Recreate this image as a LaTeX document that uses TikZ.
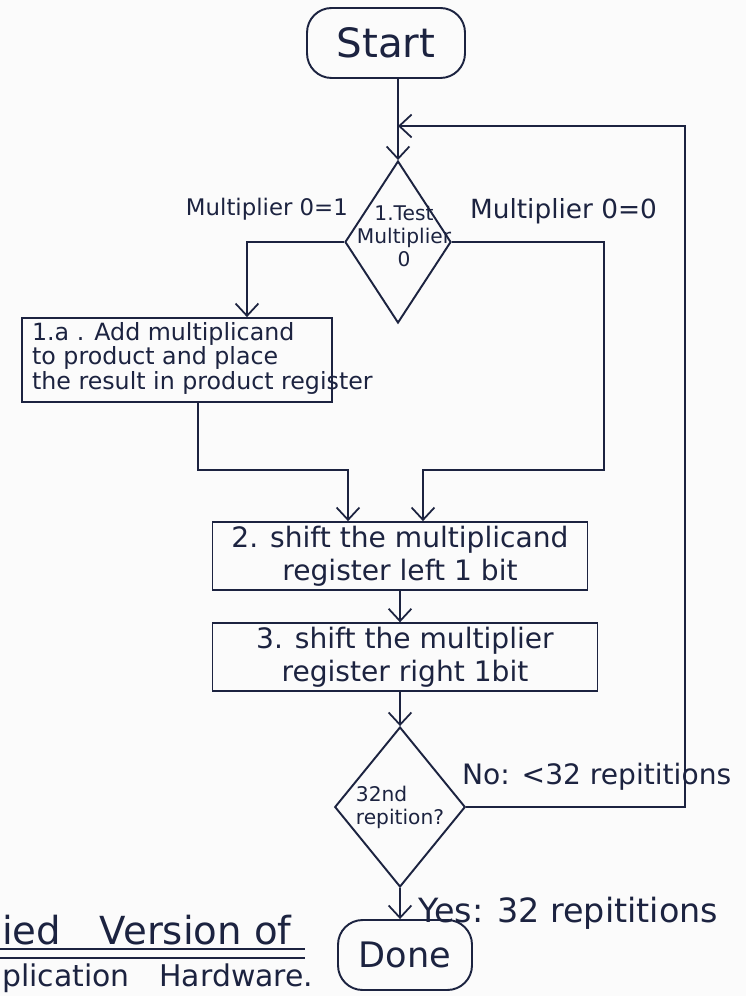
\documentclass[tikz,border=0pt]{standalone}
\usepackage{fontspec}
\setmainfont{DejaVu Sans}
\usepackage{tikz}
\usetikzlibrary{arrows.meta,positioning,shapes.geometric,calc}
\definecolor{fcInk}{HTML}{1C2340}
\definecolor{fcPaper}{HTML}{FBFBFB}
\tikzset{
  % Terminal (start / done)
  tbox/.style={rectangle,rounded corners=14pt,
    minimum width=3.16cm,minimum height=1.4cm,
    draw=fcInk,line width=1.1pt,text=fcInk,
    font=\fontsize{23}{25}\selectfont},
  % Process box
  pbox/.style={rectangle,inner sep=2pt,
    align=center,draw=fcInk,line width=1pt,text=fcInk,
    font=\fontsize{16}{19}\selectfont},
  % Decision diamond
  dbox/.style={diamond,inner sep=0pt,
    align=center,draw=fcInk,line width=1.1pt,text=fcInk},
  % Arrows and lines
  arr/.style={-{Straight Barb[length=7pt,width=13pt]},line width=1pt,color=fcInk},
  ln/.style={line width=1pt,color=fcInk},
  lbl/.style={text=fcInk,inner sep=1pt},
}
\begin{document}
\begin{tikzpicture}[x=0.02cm,y=-0.02cm]
  \fill[fcPaper] (0,0) rectangle (746,996);
  \useasboundingbox (0,0) rectangle (746,996);

  % Terminals
  \node[tbox] (start) at (386,43) {Start};
  \node[tbox,minimum width=2.68cm,font=\fontsize{20}{22}\selectfont] (done) at (405,955) {Done};

  % Decisions
  \node[dbox,minimum width=2.12cm,minimum height=3.24cm] (test) at (398,242) {};
  \node[lbl,align=center,font=\fontsize{11.5}{13}\selectfont] (testtxt) at (404,236)
    {1.Test\\Multiplier\\0};
  \node[dbox,minimum width=2.32cm,minimum height=3.2cm,
    font=\fontsize{11.5}{13}\selectfont,align=left] (rep) at (400,807)
    {32nd\\repition?};

  % Process steps
  \node[pbox,minimum width=6.2cm,minimum height=1.68cm] (add) at (177,360) {};
  \node[lbl,anchor=north west,align=left,font=\fontsize{13.5}{14}\selectfont]
    (addtxt) at (30,320)
    {1.a . Add multiplicand\\to product and place\\the result in product register};
  \node[pbox,minimum width=7.5cm,minimum height=1.36cm] (shiftmc) at (400,556)
    {2. shift the multiplicand\\register left 1 bit};
  \node[pbox,minimum width=7.7cm,minimum height=1.3cm] (shiftmp) at (405,657)
    {3. shift the multiplier\\register right 1bit};

  % Bends
  \coordinate (join) at (398,126);
  \coordinate (loopR) at (685,126);
  \coordinate (rbend) at (604,470);
  \coordinate (lbend) at (198,470);

  % Connectors
  \draw[arr] (start.south -| test.north) -- (test.north);
  \draw[arr] (test.west) -| ([xshift=1.4cm]add.north);
  \draw[arr] (test.east) -| (rbend) -| ([xshift=0.46cm]shiftmc.north);
  \draw[arr] ([xshift=0.42cm]add.south) -- (lbend) -| ([xshift=-1.04cm]shiftmc.north);
  \draw[arr] (shiftmc.south) -- (shiftmc.south |- shiftmp.north);
  \draw[arr] (rep.north |- shiftmp.south) -- (rep.north);
  \draw[arr] (rep.south) -- (rep.south |- done.north);
  \draw[arr] (rep.east) -| (loopR) -- (join);

  % Branch labels
  \node[lbl,anchor=south east,font=\fontsize{13}{14}\selectfont] (m1) at (350,222) {Multiplier 0=1};
  \node[lbl,anchor=south west,font=\fontsize{15}{17}\selectfont] (m0) at (468,226) {Multiplier 0=0};
  \node[lbl,anchor=south west,font=\fontsize{16}{18}\selectfont] (nolbl) at (460,792) {No: <32 repititions};
  \node[lbl,anchor=south west,font=\fontsize{19}{21}\selectfont] (yeslbl) at (416,932) {Yes: 32 repititions};

  % Caption (cut off at the page edge)
  \node[lbl,anchor=base west,font=\fontsize{22}{24}\selectfont] (ttl1) at (0,944) {ied\quad Version of};
  \draw[ln] (ttl1.south west) ++(0,-1.5pt) -- ++(6.1cm,0);
  \draw[ln] (ttl1.south west) ++(0,-6.5pt) -- ++(6.1cm,0);
  \node[lbl,anchor=north west,font=\fontsize{17}{19}\selectfont] (ttl2) at (0,962) {plication\quad Hardware.};
\end{tikzpicture}
\end{document}
